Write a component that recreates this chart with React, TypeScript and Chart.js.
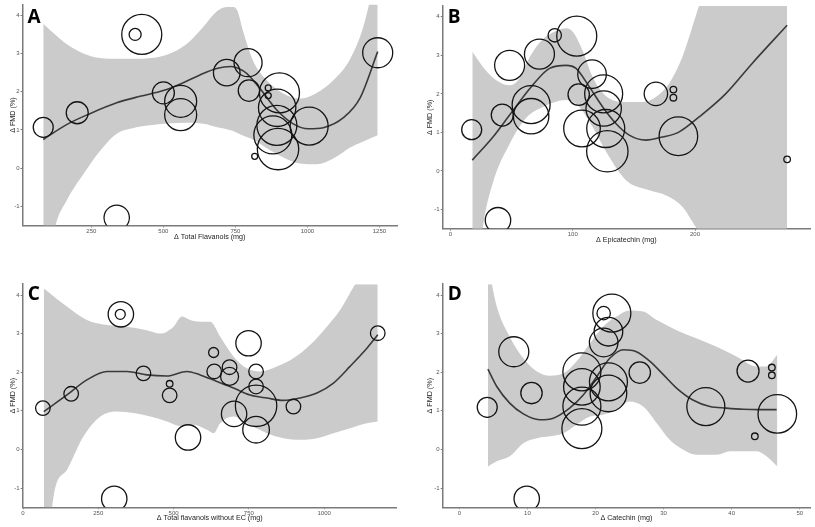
import React, { useEffect, useRef } from "react";
import { Chart, registerables } from "chart.js";

Chart.register(...registerables);

const FONT = '"Liberation Sans", Arial, sans-serif';
const Y_TITLE = "Δ FMD (%)";
const Y_TICKS = [-1, 0, 1, 2, 3, 4];
const Y_MIN = -1.5;
const Y_MAX = 4.28;

// ---------- Panel A: total flavanols ----------
const aTitle = "Δ Total Flavanols (mg)";
const aXTicks = [250, 500, 750, 1000, 1250];
const aStudyX = [83, 201, 425, 402, 338, 500, 560, 560, 720, 794, 797, 864, 864, 817, 903, 895, 894, 880, 898, 1006, 1244];
const aStudyY = [1.07, 1.45, 3.5, 3.5, -1.3, 1.97, 1.75, 1.4, 2.5, 2.76, 2.03, 2.1, 1.9, 0.31, 1.97, 1.58, 1.12, 0.87, 0.5, 1.1, 3.02];
const aStudyWeight = [10, 11, 20, 6, 12.7, 11, 16, 16, 13.3, 14, 10.7, 3, 3, 3, 20, 18.7, 20, 19, 20.7, 19, 15];
const aFitX = [83, 164, 243, 338, 419, 500, 567, 627, 685, 735, 763, 789, 836, 893, 951, 1003, 1055, 1125, 1183, 1244];
const aFitY = [0.75, 1.14, 1.42, 1.71, 1.88, 2.03, 2.23, 2.44, 2.61, 2.66, 2.6, 2.48, 2.08, 1.53, 1.16, 1.03, 1.06, 1.32, 1.84, 3.05];
const aUpperX = [83, 124, 164, 222, 280, 338, 396, 454, 512, 581, 650, 674, 700, 720, 740, 755, 778, 812, 859, 917, 974, 1032, 1090, 1148, 1194, 1244];
const aUpper = [3.78, 3.5, 3.25, 3.0, 2.88, 2.86, 2.86, 2.88, 2.97, 3.25, 3.8, 4.02, 4.18, 4.22, 4.22, 4.15, 3.55, 2.8, 2.3, 1.95, 1.82, 1.97, 2.3, 2.85, 3.7, 5.3];
const aLowerX = [83, 124, 164, 222, 280, 338, 396, 454, 512, 581, 650, 674, 700, 720, 740, 755, 778, 812, 859, 917, 974, 1032, 1090, 1148, 1194, 1244];
const aLower = [-3.5, -1.55, -0.85, -0.16, 0.45, 0.9, 1.05, 1.12, 1.17, 1.19, 1.15, 1.1, 1.05, 1.02, 0.98, 0.93, 0.85, 0.75, 0.52, 0.28, 0.12, 0.1, 0.25, 0.54, 0.7, 0.86];

// ---------- Panel B: epicatechin ----------
const bTitle = "Δ Epicatechin (mg)";
const bXTicks = [0, 100, 200];
const bStudyX = [17.4, 42.4, 48.4, 72.8, 85.3, 103.3, 66, 66, 38.9, 104.9, 115.8, 107.6, 125.3, 125.3, 127, 128.3, 168, 182.3, 182.3, 186.4, 275.3];
const bStudyY = [1.07, 1.45, 2.74, 3.03, 3.52, 3.5, 1.72, 1.42, -1.28, 1.98, 2.51, 1.1, 2.0, 1.62, 1.1, 0.51, 2.0, 2.11, 1.9, 0.9, 0.3];
const bStudyWeight = [10, 11, 15, 15, 6.7, 20, 19, 17.7, 12.7, 10.7, 14.3, 18.3, 19, 17.7, 19, 20.7, 11.7, 3.3, 3.3, 19.3, 3.3];
const bFitX = [17.9, 34.8, 48.4, 66, 81, 94.6, 102.7, 113.6, 124.5, 135.3, 146.2, 159.8, 173.4, 186.4, 203.3, 225, 246.7, 275.3];
const bFitY = [0.28, 0.88, 1.45, 2.18, 2.66, 2.74, 2.66, 2.18, 1.66, 1.23, 0.93, 0.8, 0.88, 1.0, 1.4, 2.0, 2.79, 3.78];
const bUpperX = [17.9, 26.6, 37.5, 48.4, 56.5, 64.7, 75.5, 86.4, 94.6, 100, 108, 115, 121.7, 129.9, 143.5, 157, 168, 178.8, 189.7, 197.8, 203.3, 215, 275.3];
const bUpper = [3.09, 2.7, 2.35, 2.22, 2.4, 2.95, 3.42, 3.63, 3.7, 3.61, 3.13, 2.53, 2.14, 1.88, 1.79, 1.79, 1.92, 2.27, 2.96, 3.74, 4.3, 5.5, 8];
const bLowerX = [17.9, 26.6, 34.8, 48.4, 62, 75.5, 89, 94.6, 105.4, 116.3, 129.9, 143.5, 162.5, 176, 189.7, 200.5, 206, 220, 275.3];
const bLower = [-4, -1.45, -0.3, 0.7, 1.38, 1.66, 1.82, 1.84, 1.66, 1.14, 0.36, -0.24, -0.5, -0.63, -0.93, -1.45, -1.7, -3, -6];

// ---------- Panel C: total flavanols without EC ----------
const cTitle = "Δ Total flavanols without EC (mg)";
const cXTicks = [0, 250, 500, 750, 1000];
const cStudyX = [66, 160, 325, 323, 303, 400, 487, 487, 548, 633, 635, 686, 686, 749, 701, 774, 774, 774, 774, 898, 1178];
const cStudyY = [1.07, 1.44, 3.5, 3.5, -1.28, 1.97, 1.7, 1.4, 0.31, 2.51, 2.02, 2.13, 1.89, 2.75, 0.92, 2.02, 1.63, 1.13, 0.51, 1.11, 3.01];
const cStudyWeight = [7.3, 7.3, 12.7, 5, 12.7, 7.3, 3.3, 7.3, 12.7, 5, 7.3, 7.3, 9, 12.7, 12.7, 7.3, 7.3, 20.7, 13.3, 7.3, 7.3];
const cFitX = [69, 146, 212, 279, 345, 411, 478, 544, 588, 644, 699, 754, 810, 865, 920, 976, 1031, 1086, 1142, 1178];
const cFitY = [0.98, 1.41, 1.8, 2.02, 2.02, 1.93, 1.9, 2.02, 1.93, 1.76, 1.59, 1.41, 1.33, 1.27, 1.33, 1.46, 1.72, 2.15, 2.62, 2.97];
const cUpperX = [69, 146, 212, 279, 345, 411, 456, 500, 528, 555, 588, 622, 655, 699, 743, 788, 843, 898, 954, 1009, 1053, 1097, 1119, 1178];
const cUpper = [4.17, 3.7, 3.35, 3.22, 3.18, 3.09, 3.0, 3.18, 3.44, 3.35, 3.31, 3.31, 2.92, 2.41, 2.1, 2.02, 2.15, 2.36, 2.71, 3.18, 3.61, 4.2, 4.5, 6];
const cLowerX = [69, 102, 146, 201, 257, 312, 367, 423, 478, 522, 566, 611, 633, 655, 699, 754, 810, 865, 920, 976, 1031, 1086, 1142, 1178];
const cLower = [-4, -1.2, -0.53, 0.34, 0.85, 0.98, 0.94, 0.85, 0.72, 0.6, 0.64, 0.51, 0.42, 0.68, 0.85, 0.64, 0.42, 0.29, 0.25, 0.29, 0.42, 0.55, 0.68, 0.72];

// ---------- Panel D: catechin ----------
const dTitle = "Δ Catechin (mg)";
const dXTicks = [0, 10, 20, 30, 40, 50];
const dStudyX = [4.1, 8.0, 10.6, 9.9, 18.0, 18.0, 18.0, 18.0, 21.2, 22.4, 21.9, 21.2, 21.9, 21.9, 26.5, 36.2, 42.4, 45.9, 45.9, 43.4, 46.7];
const dStudyY = [1.09, 2.53, 1.46, -1.28, 2.01, 1.62, 1.12, 0.54, 3.53, 3.53, 3.05, 2.77, 1.75, 1.45, 1.99, 1.11, 2.03, 2.12, 1.92, 0.34, 0.92];
const dStudyWeight = [10, 15, 10.7, 12.7, 19, 18.3, 19, 20, 6.7, 19, 14.3, 14.3, 19, 18.3, 10.7, 19, 11, 3.3, 3.3, 3.3, 19.3];
const dFitX = [4.2, 5.5, 7.4, 9.4, 11.8, 13.8, 16.2, 18.2, 20.2, 22.1, 24.1, 26.0, 28.0, 30.0, 31.9, 34.3, 36.8, 39.2, 41.7, 44.1, 46.6];
const dFitY = [2.08, 1.63, 1.2, 0.92, 0.77, 0.81, 1.07, 1.41, 1.89, 2.36, 2.58, 2.53, 2.28, 1.93, 1.59, 1.28, 1.11, 1.07, 1.04, 1.03, 1.03];
const dUpperX = [4.2, 5.5, 7.4, 9.4, 11.4, 13.3, 15.3, 17.2, 19.2, 21.1, 23.1, 25.0, 27.0, 29.0, 31.9, 34.8, 37.8, 40.7, 43.7, 45.1, 46.7];
const dUpper = [4.8, 3.7, 2.92, 2.36, 2.02, 1.91, 1.97, 2.28, 2.75, 3.18, 3.44, 3.6, 3.57, 3.35, 3.09, 2.88, 2.66, 2.41, 2.15, 2.15, 2.45];
const dLowerX = [4.2, 5.5, 7.4, 9.4, 11.4, 13.3, 15.3, 17.2, 19.2, 21.1, 23.1, 25.0, 27.0, 29.0, 30.9, 32.9, 34.8, 37.8, 39.8, 41.7, 43.7, 45.1, 46.7];
const dLower = [-0.44, -0.31, -0.18, 0.16, 0.29, 0.34, 0.42, 0.64, 0.85, 0.9, 1.03, 1.24, 1.11, 0.68, 0.25, -0.01, -0.14, -0.14, -0.05, -0.05, -0.05, -0.18, -0.44];

type Cfg = {
  letter: string;
  title: string;
  xTicks: number[];
  xMin: number;
  xMax: number;
  sx: number[];
  sy: number[];
  sw: number[];
  fitX: number[];
  fitY: number[];
  upX: number[];
  up: number[];
  loX: number[];
  lo: number[];
  box: { left: number; top: number; width: number; height: number };
  padTop: number;
  padRight: number;
  yWidth: number;
  xHeight: number;
  yTitlePad: number;
  xTitlePad: number;
  letterBaseline: number;
};

const PANELS: Cfg[] = [
  {
    letter: "A", title: aTitle, xTicks: aXTicks, xMin: 11, xMax: 1311,
    sx: aStudyX, sy: aStudyY, sw: aStudyWeight, fitX: aFitX, fitY: aFitY,
    upX: aUpperX, up: aUpper, loX: aLowerX, lo: aLower,
    box: { left: 0, top: 0, width: 410, height: 265 },
    padTop: 2.5, padRight: 13, yWidth: 22.5, xHeight: 39.5, yTitlePad: 8.7, xTitlePad: 23.2, letterBaseline: 22.7,
  },
  {
    letter: "B", title: bTitle, xTicks: bXTicks, xMin: -6.3, xMax: 294,
    sx: bStudyX, sy: bStudyY, sw: bStudyWeight, fitX: bFitX, fitY: bFitY,
    upX: bUpperX, up: bUpper, loX: bLowerX, lo: bLower,
    box: { left: 410, top: 0, width: 405, height: 265 },
    padTop: 6, padRight: 5, yWidth: 32.7, xHeight: 36.3, yTitlePad: 15.7, xTitlePad: 20.7, letterBaseline: 22.7,
  },
  {
    letter: "C", title: cTitle, xTicks: cXTicks, xMin: -1, xMax: 1241,
    sx: cStudyX, sy: cStudyY, sw: cStudyWeight, fitX: cFitX, fitY: cFitY,
    upX: cUpperX, up: cUpper, loX: cLowerX, lo: cLower,
    box: { left: 0, top: 265, width: 410, height: 262 },
    padTop: 19.2, padRight: 13.3, yWidth: 22.7, xHeight: 19.7, yTitlePad: 8.4, xTitlePad: 4.4, letterBaseline: 35,
  },
  {
    letter: "D", title: dTitle, xTicks: dXTicks, xMin: -2.44, xMax: 51.5,
    sx: dStudyX, sy: dStudyY, sw: dStudyWeight, fitX: dFitX, fitY: dFitY,
    upX: dUpperX, up: dUpper, loX: dLowerX, lo: dLower,
    box: { left: 410, top: 265, width: 405, height: 262 },
    padTop: 19.2, padRight: 5, yWidth: 32.7, xHeight: 19.7, yTitlePad: 15.7, xTitlePad: 4.4, letterBaseline: 35,
  },
];

const letterPlugin = {
  id: "panelLetter",
  afterDraw(chart: any, _args: any, opts: any) {
    const ctx = chart.ctx;
    ctx.save();
    ctx.font = '700 19px "Open Sans", "Liberation Sans", sans-serif';
    ctx.fillStyle = "#000";
    ctx.textBaseline = "alphabetic";
    ctx.textAlign = "left";
    ctx.fillText(opts.text, chart.chartArea.left + 5, opts.baseline);
    ctx.restore();
  },
};

function Panel({ cfg }: { cfg: Cfg }) {
  const ref = useRef<HTMLCanvasElement>(null);
  useEffect(() => {
    const pts = (xs: number[], ys: number[]) => xs.map((x, i) => ({ x, y: ys[i] }));
    const axisColor = "#7a7a7a";
    const chart = new Chart(ref.current as HTMLCanvasElement, {
      type: "scatter",
      data: {
        datasets: [
          {
            type: "bubble",
            data: cfg.sx.map((x, i) => ({ x, y: cfg.sy[i], r: cfg.sw[i] })),
            backgroundColor: "rgba(0,0,0,0)",
            borderColor: "#141414",
            borderWidth: 1.3,
            clip: 0,
            order: 1,
          } as any,
          {
            type: "line",
            data: pts(cfg.fitX, cfg.fitY),
            borderColor: "#3a3a3a",
            borderWidth: 1.6,
            pointRadius: 0,
            cubicInterpolationMode: "monotone",
            fill: false,
            order: 2,
          } as any,
          {
            type: "line",
            data: pts(cfg.loX, cfg.lo),
            borderColor: "rgba(0,0,0,0)",
            borderWidth: 0,
            pointRadius: 0,
            cubicInterpolationMode: "monotone",
            fill: false,
            order: 3,
          } as any,
          {
            type: "line",
            data: pts(cfg.upX, cfg.up),
            borderColor: "rgba(0,0,0,0)",
            borderWidth: 0,
            pointRadius: 0,
            cubicInterpolationMode: "monotone",
            fill: "-1",
            backgroundColor: "#cbcbcb",
            order: 3,
          } as any,
        ],
      },
      options: {
        animation: false,
        responsive: false,
        maintainAspectRatio: false,
        events: [],
        layout: { autoPadding: false, padding: { left: 0, top: cfg.padTop, right: cfg.padRight, bottom: 0 } },
        plugins: {
          legend: { display: false },
          tooltip: { enabled: false },
          panelLetter: { text: cfg.letter, baseline: cfg.letterBaseline },
        } as any,
        scales: {
          x: {
            type: "linear",
            min: cfg.xMin,
            max: cfg.xMax,
            afterBuildTicks: (s: any) => {
              s.ticks = cfg.xTicks.map((v) => ({ value: v }));
            },
            afterFit: (s: any) => {
              s.height = cfg.xHeight;
            },
            grid: { display: true, drawOnChartArea: false, drawTicks: true, tickLength: 2, color: axisColor, lineWidth: 1 },
            border: { display: true, color: axisColor, width: 1.5 },
            ticks: {
              font: { family: FONT, size: 6 },
              color: "#555",
              padding: 0,
              maxRotation: 0,
              autoSkip: false,
              callback: (v: any) => String(v),
            },
            title: {
              display: true,
              text: cfg.title,
              font: { family: FONT, size: 7.2 },
              color: "#222",
              padding: { top: 0, bottom: cfg.xTitlePad },
            },
          },
          y: {
            type: "linear",
            min: Y_MIN,
            max: Y_MAX,
            afterBuildTicks: (s: any) => {
              s.ticks = Y_TICKS.map((v) => ({ value: v }));
            },
            afterFit: (s: any) => {
              s.width = cfg.yWidth;
            },
            grid: { display: true, drawOnChartArea: false, drawTicks: true, tickLength: 2, color: axisColor, lineWidth: 1 },
            border: { display: true, color: axisColor, width: 1.5 },
            ticks: {
              font: { family: FONT, size: 6 },
              color: "#555",
              padding: 1,
              autoSkip: false,
              callback: (v: any) => String(v),
            },
            title: {
              display: true,
              text: Y_TITLE,
              font: { family: FONT, size: 7.2 },
              color: "#222",
              padding: { top: cfg.yTitlePad, bottom: 0 },
            },
          },
        },
      } as any,
      plugins: [letterPlugin as any],
    });
    return () => chart.destroy();
  }, [cfg]);

  const { left, top, width, height } = cfg.box;
  return (
    <canvas
      ref={ref}
      width={width}
      height={height}
      style={{ position: "absolute", left, top, width, height, display: "block" }}
    />
  );
}

export default function App() {
  return (
    <div style={{ position: "absolute", left: 0, top: 0, width: 815, height: 527, background: "#fff", overflow: "hidden" }}>
      {PANELS.map((p) => (
        <Panel key={p.letter} cfg={p} />
      ))}
    </div>
  );
}
